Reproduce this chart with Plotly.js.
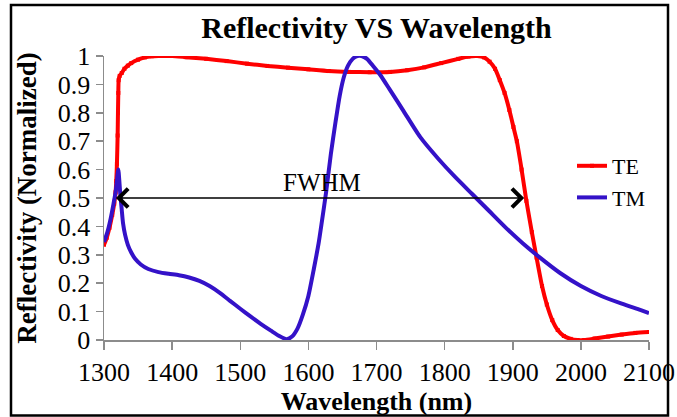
<!DOCTYPE html>
<html>
<head>
<meta charset="utf-8">
<script src="https://cdn.plot.ly/plotly-3.0.1.min.js"></script>
<style>
  html, body { margin: 0; padding: 0; background: #fff; }
  #chart { width: 677px; height: 417px; }
</style>
</head>
<body>
<div id="chart"></div>
<script>
// ---- Data ----
const teWavelength = [1300,1304,1308,1312,1315,1317,1318,1319,1320,1320.5,1321,1321.5,1323,1326,1330,1335,1340,1350,1360,1370,1380,1400,1420,1450,1480,1510,1540,1570,1600,1630,1660,1690,1720,1745,1770,1795,1820,1835,1848,1858,1866,1874,1881,1888,1895,1901,1906,1913,1920,1928,1935,1943,1950,1958,1966,1975,1985,1995,2005,2020,2040,2060,2080,2100];
const teReflectivity = [0.335,0.36,0.395,0.44,0.48,0.52,0.56,0.62,0.72,0.8,0.87,0.915,0.93,0.94,0.955,0.966,0.975,0.987,0.995,0.999,1.0,1.0,0.996,0.99,0.982,0.973,0.965,0.959,0.953,0.947,0.944,0.943,0.944,0.95,0.96,0.975,0.99,0.998,1.0,0.995,0.98,0.955,0.915,0.87,0.81,0.75,0.70,0.6,0.49,0.38,0.29,0.19,0.125,0.07,0.035,0.014,0.004,0.0,0.0,0.005,0.012,0.019,0.025,0.028];

const tmWavelength = [1300,1305,1310,1314,1317,1319,1321,1322.5,1324,1326,1328,1331,1335,1340,1346,1354,1365,1380,1395,1410,1425,1440,1455,1470,1485,1500,1515,1530,1545,1558,1568,1576,1584,1592,1600,1608,1615,1620,1626,1633,1640,1646,1652,1658,1665,1672,1678,1686,1695,1705,1720,1740,1764,1790,1815,1840,1865,1890,1915,1940,1970,2000,2030,2060,2087,2100];
const tmReflectivity = [0.345,0.38,0.43,0.48,0.52,0.56,0.6,0.56,0.51,0.46,0.41,0.37,0.335,0.308,0.285,0.266,0.25,0.239,0.233,0.228,0.22,0.208,0.19,0.166,0.138,0.11,0.083,0.057,0.033,0.013,0.003,0.012,0.04,0.09,0.155,0.25,0.34,0.42,0.52,0.655,0.77,0.86,0.925,0.965,0.99,1.0,1.0,0.99,0.965,0.935,0.88,0.805,0.715,0.64,0.575,0.515,0.455,0.395,0.34,0.29,0.235,0.19,0.155,0.128,0.106,0.095];

const seriesNames = ["TE", "TM"];
const xTickValues = [1300,1400,1500,1600,1700,1800,1900,2000,2100];
const yTickValues = [0,0.1,0.2,0.3,0.4,0.5,0.6,0.7,0.8,0.9,1];
const yTickLabels = ["0","0.1","0.2","0.3","0.4","0.5","0.6","0.7","0.8","0.9","1"];
const fwhmStart = 1317.5, fwhmEnd = 1919, fwhmLevel = 0.5;

// ---- Styling ----
const serif = "Liberation Serif, Times New Roman, serif";
const axisGray = "#8c8c8c";

const traces = [
  {
    x: teWavelength, y: teReflectivity, name: seriesNames[0],
    type: "scatter", mode: "lines+markers",
    line: { color: "#ff0000", width: 4, shape: "spline", smoothing: 0.5 },
    marker: { color: "#ff0000", symbol: "square", size: 4 }
  },
  {
    x: tmWavelength, y: tmReflectivity, name: seriesNames[1],
    type: "scatter", mode: "lines",
    line: { color: "#3412c8", width: 4, shape: "spline", smoothing: 0.6 }
  }
];

const L = 104, R = 28, T = 56, B = 77, W = 677, H = 417;
const pw = W - L - R, ph = H - T - B;
function px2paperX(p) { return (p - L) / pw; }
function px2paperY(p) { return (H - B - p) / ph; }

const layout = {
  width: W, height: H,
  margin: { l: L, r: R, t: T, b: B, pad: 0 },
  paper_bgcolor: "#ffffff", plot_bgcolor: "#ffffff",
  font: { family: serif, color: "#000" },
  title: {
    text: "Reflectivity VS Wavelength",
    font: { family: serif, size: 30, weight: "bold", color: "#000" },
    x: 0.5, xref: "paper", y: 1 - 27 / H, yref: "container", yanchor: "middle"
  },
  xaxis: {
    range: [1300, 2100], tickvals: xTickValues,
    showgrid: false, zeroline: false,
    showline: true, linecolor: axisGray, linewidth: 1.5,
    ticks: "outside", ticklen: 8, tickcolor: axisGray, tickwidth: 1.5,
    tickfont: { family: serif, size: 26, color: "#000" },
    title: { text: "Wavelength (nm)", font: { family: serif, size: 26, weight: "bold", color: "#000" }, standoff: 2 },
    automargin: false
  },
  yaxis: {
    range: [0, 1], tickvals: yTickValues, ticktext: yTickLabels,
    showgrid: false, zeroline: false,
    showline: true, linecolor: axisGray, linewidth: 1.5,
    ticks: "outside", ticklen: 7, tickcolor: axisGray, tickwidth: 1.5,
    tickfont: { family: serif, size: 26, color: "#000" },
    title: { text: "Reflectivity (Normalized)", font: { family: serif, size: 27, weight: "bold", color: "#000" }, standoff: 13 },
    automargin: false
  },
  legend: {
    x: px2paperX(572), y: px2paperY(145), xanchor: "left", yanchor: "top",
    bgcolor: "rgba(0,0,0,0)", borderwidth: 0,
    font: { family: serif, size: 22, color: "#000" },
    tracegroupgap: 0
  },
  showlegend: true,
  annotations: [
    {
      x: fwhmStart, y: fwhmLevel, ax: fwhmEnd, ay: fwhmLevel,
      xref: "x", yref: "y", axref: "x", ayref: "y",
      text: "", showarrow: true, arrowhead: 4, startarrowhead: 4,
      arrowside: "end+start", arrowsize: 2.4, startarrowsize: 2.4,
      arrowwidth: 1.5, arrowcolor: "#000"
    },
    {
      x: 1620, y: fwhmLevel, xref: "x", yref: "y",
      text: "FWHM", showarrow: false, yanchor: "bottom", yshift: 0,
      font: { family: serif, size: 25, color: "#000" }
    }
  ],
  shapes: [
    {
      type: "rect", xref: "paper", yref: "paper",
      x0: px2paperX(11), x1: px2paperX(668), y0: px2paperY(415.5), y1: px2paperY(5),
      line: { color: "#000", width: 2.5 }, fillcolor: "rgba(0,0,0,0)", layer: "above"
    }
  ]
};

Plotly.newPlot("chart", traces, layout, { displayModeBar: false, staticPlot: true });
</script>
</body>
</html>
